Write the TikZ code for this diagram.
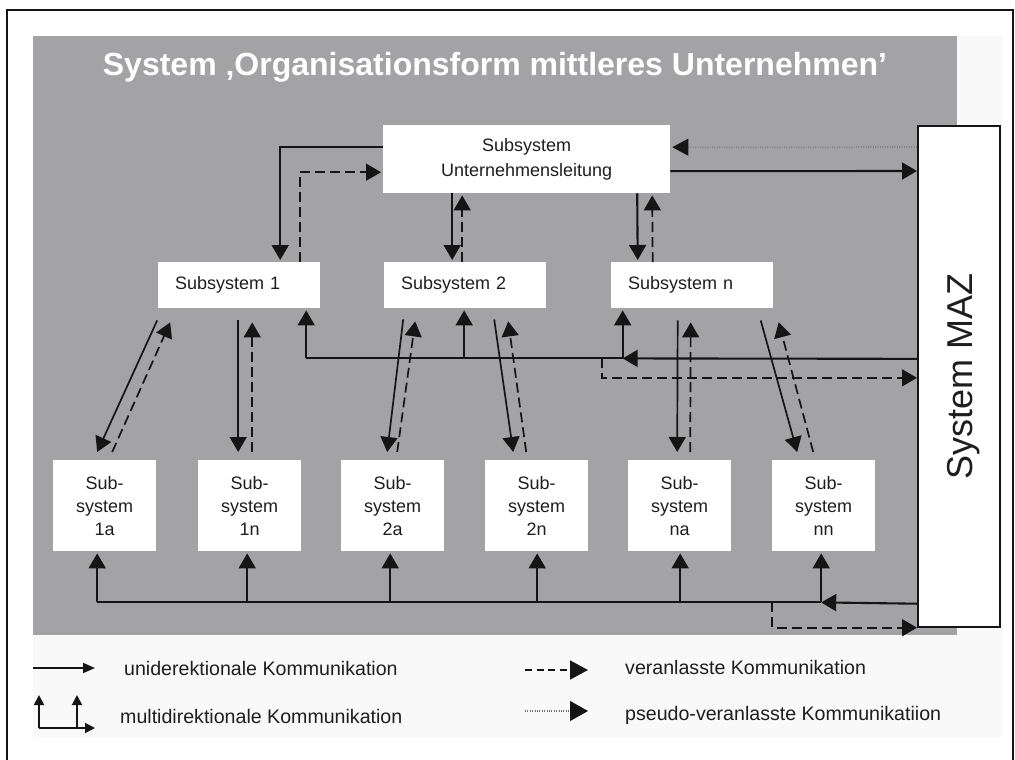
\documentclass[tikz,border=0pt]{standalone}
\usepackage{fontspec}
\setmainfont{Liberation Sans}
\usetikzlibrary{arrows.meta,calc}
\definecolor{ink}{HTML}{151515}
\definecolor{panel}{HTML}{A3A3A5}
\definecolor{paper}{HTML}{F9F9F9}
\definecolor{labeltext}{HTML}{1E1E1E}
\begin{document}
\begin{tikzpicture}[x=1pt,y=-1pt,
  box/.style={fill=white, inner sep=0pt, anchor=north west, text=labeltext},
  topbox/.style={box, minimum height=68pt, text width=287pt, align=center,
    font=\fontsize{18}{25}\selectfont},
  midbox/.style={box, minimum height=46pt, inner xsep=17pt, text width=128pt,
    align=left, font=\fontsize{18}{22}\selectfont},
  lowbox/.style={box, minimum height=91pt, text width=103pt, align=center,
    font=\fontsize{18}{23}\selectfont},
  bigtip/.style={-{Triangle[length=15pt,width=17pt,color=ink]}},
  uni/.style={draw=ink, line width=2.1pt, bigtip},
  diag/.style={draw=ink, line width=1.7pt, bigtip},
  wire/.style={draw=ink, line width=2.1pt},
  dsh/.style={draw=ink, line width=1.7pt, dash pattern=on 10pt off 5pt, bigtip},
  dot/.style={draw=ink!60, line width=1.1pt, dash pattern=on 1pt off 1.4pt,
    -{Triangle[length=16pt,width=17pt,color=ink]}},
  legtext/.style={anchor=base west, inner sep=0pt, text=labeltext,
    font=\fontsize{19.6}{23}\selectfont},
  legsolid/.style={draw=ink, line width=1.8pt, -{Triangle[length=12pt,width=10pt]}},
  legsmall/.style={draw=ink, line width=1.8pt, -{Triangle[length=10pt,width=10pt]}},
  legdash/.style={draw=ink, line width=1.7pt, dash pattern=on 7pt off 4.5pt,
    -{Triangle[length=18pt,width=19pt,color=ink]}},
  legdot/.style={draw=ink!60, line width=1.1pt, dash pattern=on 1pt off 1.4pt,
    -{Triangle[length=18pt,width=20pt,color=ink]}},
]
\useasboundingbox (0,0) rectangle (1015,760);
\clip (0,0) rectangle (1015,760);

% background: light sheet, grey panel, outer frame
\fill[paper] (33,36) rectangle (1003,737);
\fill[panel] (33,36) rectangle (957,635);
\draw[ink, line width=2.5pt] (7,790) -- (7,10) -- (1013,10) -- (1013,790);

% title
\node[anchor=base, inner sep=0pt, text=white, font=\fontsize{32}{38}\selectfont\bfseries]
  (title) at (495,75) {System ‚Organisationsform mittleres Unternehmen’};

% boxes
\node[topbox] (top) at (383,125) {Subsystem\\Unternehmensleitung};
\node[box, draw=ink, line width=1.7pt, minimum width=82pt, minimum height=501pt]
  (maz) at (917,125) {};
\node[rotate=90, anchor=base, inner sep=0pt, text=labeltext,
  font=\fontsize{36}{40}\selectfont] (mazlabel) at ($(maz.center)+(14,0)$) {System MAZ};

\node[midbox] (s1) at (158,262) {Subsystem 1};
\node[midbox] (s2) at (384,262) {Subsystem 2};
\node[midbox] (sn) at (611,262) {Subsystem n};

\node[lowbox] (b1a) at (53,460)  {Sub-\\system\\1a};
\node[lowbox] (b1n) at (198,460) {Sub-\\system\\1n};
\node[lowbox] (b2a) at (341,460) {Sub-\\system\\2a};
\node[lowbox] (b2n) at (485,460) {Sub-\\system\\2n};
\node[lowbox] (bna) at (628,460) {Sub-\\system\\na};
\node[lowbox] (bnn) at (772,460) {Sub-\\system\\nn};

% management <-> first level
\draw[uni] ($(top.west)+(0,-12)$) -| ($(s1.north)+(41,-2)$);
\draw[dsh] ($(s1.north)+(61,0)$) |- ($(top.west)+(-2,13)$);
\draw[uni] ($(top.south)+(-74.5,0)$) -- ($(s2.north)+(-13,-2)$);
\draw[dsh] ($(s2.north)+(-3,0)$) -- ($(top.south)+(-64.5,2)$);
\draw[uni] ($(top.south)+(110.5,0)$) -- ($(sn.north)+(-54.5,-2)$);
\draw[dsh] ($(sn.north)+(-39.5,0)$) -- ($(top.south)+(125.5,2)$);

% management <-> MAZ
\draw[uni] ($(top.east)+(0,12)$) -- ($(maz.north west)+(0,46)$);
\draw[dot] ($(maz.north west)+(0,22)$) -- ($(top.east)+(2,-12)$);

% middle bus from MAZ to the first level
\coordinate (mbus1) at ($(s1.south)+(67,50)$);
\coordinate (mbus2) at ($(s2.south)+(-1,49)$);
\coordinate (mbusn) at ($(sn.south)+(-69.5,50)$);
\coordinate (mdash) at ($(sn.south)+(-90.5,50)$);
\draw[uni] ($(maz.west)+(0,-17.5)$) -- (mbusn);
\draw[wire] (mbusn) -- (mbus1);
\draw[uni] (mbus1) -- ($(s1.south)+(67,2)$);
\draw[uni] (mbus2) -- ($(s2.south)+(-1,2)$);
\draw[uni] (mbusn) -- ($(sn.south)+(-69.5,2)$);
\draw[dsh] (mdash) |- ($(maz.west)+(0,1.5)$);

% first level <-> second level
\draw[diag] ($(s1.south)+(-82,12)$) -- ($(b1a.north)+(-7.5,-8)$);
\draw[dsh]  ($(b1a.north)+(7.5,-8)$) -- ($(s1.south)+(-69,14)$);
\draw[diag] ($(s1.south)+(-1,12)$) -- ($(b1n.north)+(-11.5,-8)$);
\draw[dsh]  ($(b1n.north)+(2.5,-8)$) -- ($(s1.south)+(13,14)$);
\draw[diag] ($(s2.south)+(-62,11)$) -- ($(b2a.north)+(-5.5,-8)$);
\draw[dsh]  ($(b2a.north)+(4.5,-8)$) -- ($(s2.south)+(-50,13)$);
\draw[diag] ($(s2.south)+(29,11)$) -- ($(b2n.north)+(-23.5,-8)$);
\draw[dsh]  ($(b2n.north)+(-10.5,-8)$) -- ($(s2.south)+(43,13)$);
\draw[diag] ($(sn.south)+(-14.5,12)$) -- ($(bna.north)+(-2.5,-8)$);
\draw[dsh]  ($(bna.north)+(10.5,-8)$) -- ($(sn.south)+(-1.5,14)$);
\draw[diag] ($(sn.south)+(68.5,12)$) -- ($(bnn.north)+(-26.5,-8)$);
\draw[dsh]  ($(bnn.north)+(-10.5,-8)$) -- ($(sn.south)+(86.5,14)$);

% lower bus from MAZ to the second level
\coordinate (lb1a) at ($(b1a.south)+(-7.5,51)$);
\coordinate (lb1n) at ($(b1n.south)+(-2.5,51)$);
\coordinate (lb2a) at ($(b2a.south)+(-2.5,51)$);
\coordinate (lb2n) at ($(b2n.south)+(0.5,51)$);
\coordinate (lbna) at ($(bna.south)+(0.5,51)$);
\coordinate (lbnn) at ($(bnn.south)+(-2.5,51)$);
\draw[uni] ($(maz.south west)+(0,-24)$) -- (lbnn);
\draw[wire] (lbnn) -- (lb1a);
\draw[uni] (lb1a) -- ($(b1a.south)+(-7.5,2)$);
\draw[uni] (lb1n) -- ($(b1n.south)+(-2.5,2)$);
\draw[uni] (lb2a) -- ($(b2a.south)+(-2.5,2)$);
\draw[uni] (lb2n) -- ($(b2n.south)+(0.5,2)$);
\draw[uni] (lbna) -- ($(bna.south)+(0.5,2)$);
\draw[uni] (lbnn) -- ($(bnn.south)+(-2.5,2)$);
\draw[dsh] ($(bnn.south west)+(0,51)$) |- (maz.south west);

% legend
\coordinate (la0) at (33,668);  \coordinate (la1) at (95,668);
\draw[legsolid] (la0) -- (la1);
\node[legtext] (lta) at (124,675) {uniderektionale Kommunikation};

\coordinate (lm0) at (39,728);  \coordinate (lm1) at (77,728);
\coordinate (lm2) at (95,728);  \coordinate (lm0t) at (39,695);
\coordinate (lm1t) at (77,695);
\draw[legsmall] (lm0) -- (lm0t);
\draw[legsmall] (lm1) -- (lm1t);
\draw[legsmall] (lm0) -- (lm2);
\node[legtext] (ltm) at (120,723) {multidirektionale Kommunikation};

\coordinate (ld0) at (525,670); \coordinate (ld1) at (588,670);
\draw[legdash] (ld0) -- (ld1);
\node[legtext] (ltd) at (625,674) {veranlasste Kommunikation};

\coordinate (lp0) at (525,711); \coordinate (lp1) at (588,711);
\draw[legdot] (lp0) -- (lp1);
\node[legtext] (ltp) at (625,720) {pseudo-veranlasste Kommunikatiion};
\end{tikzpicture}
\end{document}
